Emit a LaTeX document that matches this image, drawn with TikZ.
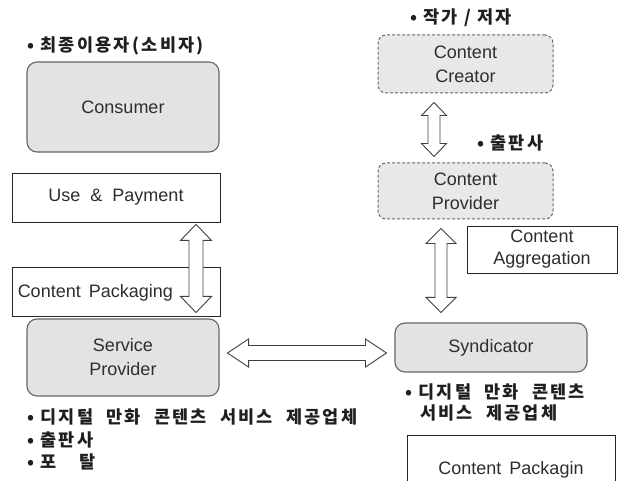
\documentclass[tikz,border=0pt]{standalone}
\usepackage{fontspec}
\setmainfont{Liberation Sans}
\newfontfamily\kr[LetterSpace=13]{Noto Sans CJK KR}
\usetikzlibrary{calc}
\newcommand\ksp{\hspace{0.75em}}
\newcommand\hdarrow[5]{% start, end, head length, head half width, shaft half width
  \coordinate (ha) at ($(#1)!#3!(#2)$);
  \coordinate (hb) at ($(#2)!#3!(#1)$);
  \draw[arrowline] (#1) -- ($(ha)!#4!90:(#2)$) -- ($(ha)!#5!90:(#2)$) -- ($(hb)!#5!-90:(#1)$) -- ($(hb)!#4!-90:(#1)$) -- (#2)
    -- ($(hb)!#4!90:(#1)$) -- ($(hb)!#5!90:(#1)$) -- ($(ha)!#5!-90:(#2)$) -- ($(ha)!#4!-90:(#2)$) -- cycle;}
\tikzset{
  etext/.style={font=\fontsize{18}{24}\selectfont, text=black!82, inner sep=0pt, align=center},
  ktext/.style={font=\fontsize{17.5}{22}\selectfont\kr\bfseries, text=black!88, inner sep=0pt, anchor=west},
  gbox/.style={etext, draw=black!60, line width=1.1pt, fill=black!11, rounded corners=10pt},
  dbox/.style={etext, draw=black!60, densely dashed, line width=1pt, fill=black!9, rounded corners=8pt},
  wbox/.style={etext, draw=black!85, line width=0.9pt, fill=white},
  arrowline/.style={draw=black!75, line width=0.9pt, fill=white, line join=miter},
}
\begin{document}
\begin{tikzpicture}[x=1pt, y=-1pt]
\useasboundingbox (0,0) rectangle (619,481);
\fill[white] (0,0) rectangle (619,481);
\begin{scope}
\clip (0,0) rectangle (619,481);
% left column
\node[ktext] (kcons) at (27,46) {\textbullet\ 최종이용자(소비자)};
\node[gbox, minimum width=192pt, minimum height=90pt] (cons) at (123,107) {Consumer};
\node[wbox, minimum width=208pt, minimum height=49pt] (usepay) at (116,197.5) {Use \ \& \ Payment};
\node[wbox, minimum width=208pt, minimum height=49pt] (pack) at (116,291.5) {};
\node[etext, anchor=west] (packtxt) at ([xshift=6pt,yshift=-1pt]pack.west) {Content \,Packaging};
\node[gbox, minimum width=192pt, minimum height=77pt] (svc) at (123,357.5) {Service\\Provider};
\node[ktext] (ksvc1) at (27,417) {\textbullet\ 디지털\ksp 만화\ksp 콘텐츠\ksp 서비스\ksp 제공업체};
\node[ktext] (ksvc2) at (27,440) {\textbullet\ 출판사};
\node[ktext] (ksvc3) at (27,462) {\textbullet\ 포\hspace{1.3em}탈};
% right column
\node[ktext] (kcre) at (410,18) {\textbullet\ 작가 / 저자};
\node[dbox, minimum width=175pt, minimum height=58pt] (cre) at (465.5,64) {Content\\Creator};
\node[ktext] (kprov) at (477,143) {\textbullet\ 출판사};
\node[dbox, minimum width=175pt, minimum height=56pt] (prov) at (465.5,191) {Content\\Provider};
\node[wbox, minimum width=150pt, minimum height=47pt, font=\fontsize{18}{22}\selectfont] (agg) at (542,249.5) {Content\\Aggregation};
\node[gbox, minimum width=192pt, minimum height=49pt] (synd) at (491,347.5) {Syndicator};
\node[ktext] (ksyn1) at (405,392) {\textbullet\ 디지털\ksp 만화\ksp 콘텐츠};
\node[ktext] (ksyn2) at (420,413) {서비스\ksp 제공업체};
\node[wbox, minimum width=208pt, minimum height=60pt] (packr) at (511,465) {};
\node[etext] (packrtxt) at ([yshift=-5pt]packr.center) {Content \,Packagin};
\end{scope}
% arrows
\coordinate (a1s) at ([xshift=80pt,yshift=-2pt]usepay.south);
\coordinate (a1e) at ([xshift=73pt,yshift=6pt]svc.north);
\hdarrow{a1s}{a1e}{16pt}{15.5pt}{7pt}
\coordinate (a2s) at ([xshift=8pt,yshift=4.5pt]svc.east);
\coordinate (a2e) at ([xshift=-8pt,yshift=-5.5pt]synd.west);
\hdarrow{a2s}{a2e}{21pt}{14pt}{7.5pt}
\coordinate (a3s) at ([xshift=-31.5pt,yshift=-9pt]cre.south);
\coordinate (a3e) at ([xshift=-31.5pt,yshift=6pt]prov.north);
\hdarrow{a3s}{a3e}{13pt}{12.5pt}{6pt}
\coordinate (a4s) at ([xshift=-24.5pt,yshift=-9pt]prov.south);
\coordinate (a4e) at ([xshift=-50pt,yshift=10pt]synd.north);
\hdarrow{a4s}{a4e}{15pt}{15pt}{6pt}
\end{tikzpicture}
\end{document}
